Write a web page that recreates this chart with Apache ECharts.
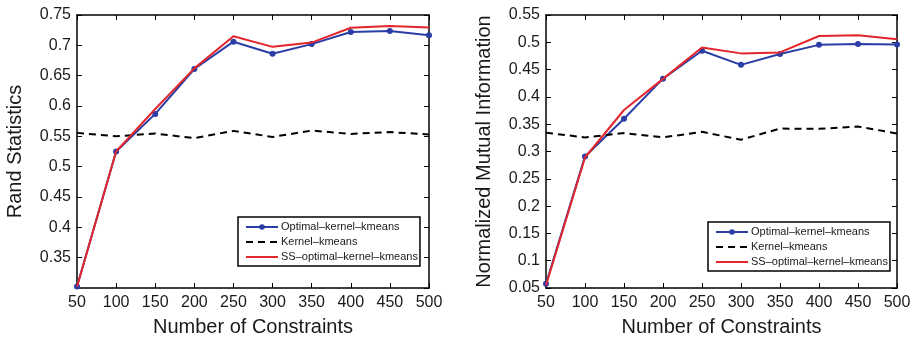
<!DOCTYPE html>
<html>
<head>
<meta charset="utf-8">
<script src="https://cdn.jsdelivr.net/npm/echarts@6/dist/echarts.min.js"></script>
<style>
  html, body { margin: 0; padding: 0; background: #fff; }
  #chart { width: 919px; height: 342px; }
</style>
</head>
<body>
<div id="chart"></div>
<script>
const constraints = [50, 100, 150, 200, 250, 300, 350, 400, 450, 500];

// Rand statistics (left panel)
const randOptimal = [0.3025, 0.525, 0.587, 0.661, 0.706, 0.686, 0.702, 0.722, 0.7235, 0.7165];
const randKernel  = [0.5557, 0.550, 0.5547, 0.547, 0.559, 0.549, 0.5595, 0.554, 0.557, 0.553];
const randSS      = [0.302, 0.525, 0.595, 0.662, 0.715, 0.6975, 0.7045, 0.729, 0.732, 0.7295];

// Normalized mutual information (right panel)
const nmiOptimal = [0.0578, 0.291, 0.360, 0.4334, 0.4845, 0.4587, 0.4785, 0.4953, 0.4971, 0.4959];
const nmiKernel  = [0.3343, 0.3258, 0.3337, 0.3258, 0.336, 0.3216, 0.342, 0.3415, 0.3457, 0.333];
const nmiSS      = [0.055, 0.289, 0.376, 0.433, 0.4905, 0.4797, 0.4815, 0.5115, 0.5127, 0.5055];

const seriesNames = ['Optimal–kernel–kmeans', 'Kernel–kmeans', 'SS–optimal–kernel–kmeans'];
const xName = 'Number of Constraints';
const yNames = ['Rand Statistics', 'Normalized Mutual Information'];

const font = '"Liberation Sans", Arial, Helvetica, sans-serif';
const textColor = '#1a1a1a';
const blue = '#2b3ea6';
const red = '#e3262b';

const pairs = (ys) => constraints.map((x, i) => [x, ys[i]]);

const chart = echarts.init(document.getElementById('chart'), null, { renderer: 'canvas' });

const grids = [
  { left: 77, right: 490, top: 15, bottom: 49 },
  { left: 546, right: 22, top: 15, bottom: 49 }
];

const yRanges = [
  { min: 0.3, max: 0.75, hideMin: true },
  { min: 0.05, max: 0.55, hideMin: false }
];

const xAxes = [];
const yAxes = [];
grids.forEach((g, gi) => {
  // bottom axis with labels
  xAxes.push({
    type: 'value', gridIndex: gi, min: 50, max: 500, interval: 50,
    name: xName, nameLocation: 'middle', nameGap: 29,
    nameTextStyle: { fontFamily: font, fontSize: 20, color: textColor },
    axisLine: { show: true, lineStyle: { color: '#000', width: 1.5 } },
    axisTick: { show: true, inside: true, length: 5, lineStyle: { color: '#000', width: 1 } },
    axisLabel: { fontFamily: font, fontSize: 16, color: textColor, margin: 7, showMinLabel: true, showMaxLabel: true },
    splitLine: { show: false }
  });
  // top mirror axis
  xAxes.push({
    type: 'value', gridIndex: gi, position: 'top', min: 50, max: 500, interval: 50,
    axisLine: { show: true, lineStyle: { color: '#000', width: 1.5 } },
    axisTick: { show: true, inside: true, length: 5, lineStyle: { color: '#000', width: 1 } },
    axisLabel: { show: false },
    splitLine: { show: false }
  });
  const r = yRanges[gi];
  yAxes.push({
    type: 'value', gridIndex: gi, min: r.min, max: r.max, interval: 0.05,
    name: yNames[gi], nameLocation: 'middle', nameGap: 52,
    nameTextStyle: { fontFamily: font, fontSize: 20, color: textColor },
    axisLine: { show: true, lineStyle: { color: '#000', width: 1.5 } },
    axisTick: { show: true, inside: true, length: 5, lineStyle: { color: '#000', width: 1 } },
    axisLabel: { fontFamily: font, fontSize: 16, color: textColor, margin: 6, showMinLabel: !r.hideMin },
    splitLine: { show: false }
  });
  yAxes.push({
    type: 'value', gridIndex: gi, position: 'right', min: r.min, max: r.max, interval: 0.05,
    axisLine: { show: true, lineStyle: { color: '#000', width: 1.5 } },
    axisTick: { show: true, inside: true, length: 5, lineStyle: { color: '#000', width: 1 } },
    axisLabel: { show: false },
    splitLine: { show: false }
  });
});

function panelSeries(gi, optimal, kernel, ss) {
  return [
    {
      name: seriesNames[0], type: 'line', xAxisIndex: gi * 2, yAxisIndex: gi * 2,
      data: pairs(optimal), symbol: 'circle', symbolSize: 6, showSymbol: true,
      lineStyle: { color: blue, width: 2 }, itemStyle: { color: blue }, z: 2
    },
    {
      name: seriesNames[1], type: 'line', xAxisIndex: gi * 2, yAxisIndex: gi * 2,
      data: pairs(kernel), symbol: 'none',
      lineStyle: { color: '#000', width: 2, type: [7, 5] }, itemStyle: { color: '#000' }, z: 3
    },
    {
      name: seriesNames[2], type: 'line', xAxisIndex: gi * 2, yAxisIndex: gi * 2,
      data: pairs(ss), symbol: 'none',
      lineStyle: { color: red, width: 2 }, itemStyle: { color: red }, z: 4
    }
  ];
}

const legendBase = {
  orient: 'vertical',
  data: [
    { name: seriesNames[0] },
    { name: seriesNames[1], itemStyle: { opacity: 0 } },
    { name: seriesNames[2], itemStyle: { opacity: 0 } }
  ],
  itemWidth: 32, itemHeight: 7, itemGap: 3,
  padding: [4, 2, 3, 7],
  borderColor: '#000', borderWidth: 1.5, backgroundColor: '#fff',
  textStyle: { fontFamily: font, fontSize: 11, lineHeight: 12, color: textColor, padding: [0, 0, 0, -2] },
  selectedMode: false
};

const option = {
  animation: false,
  backgroundColor: '#fff',
  grid: grids,
  xAxis: xAxes,
  yAxis: yAxes,
  legend: [
    Object.assign({}, legendBase, { left: 238, top: 217 }),
    Object.assign({}, legendBase, { left: 708, top: 222 })
  ],
  series: [
    ...panelSeries(0, randOptimal, randKernel, randSS),
    ...panelSeries(1, nmiOptimal, nmiKernel, nmiSS)
  ]
};

chart.setOption(option);
</script>
</body>
</html>
